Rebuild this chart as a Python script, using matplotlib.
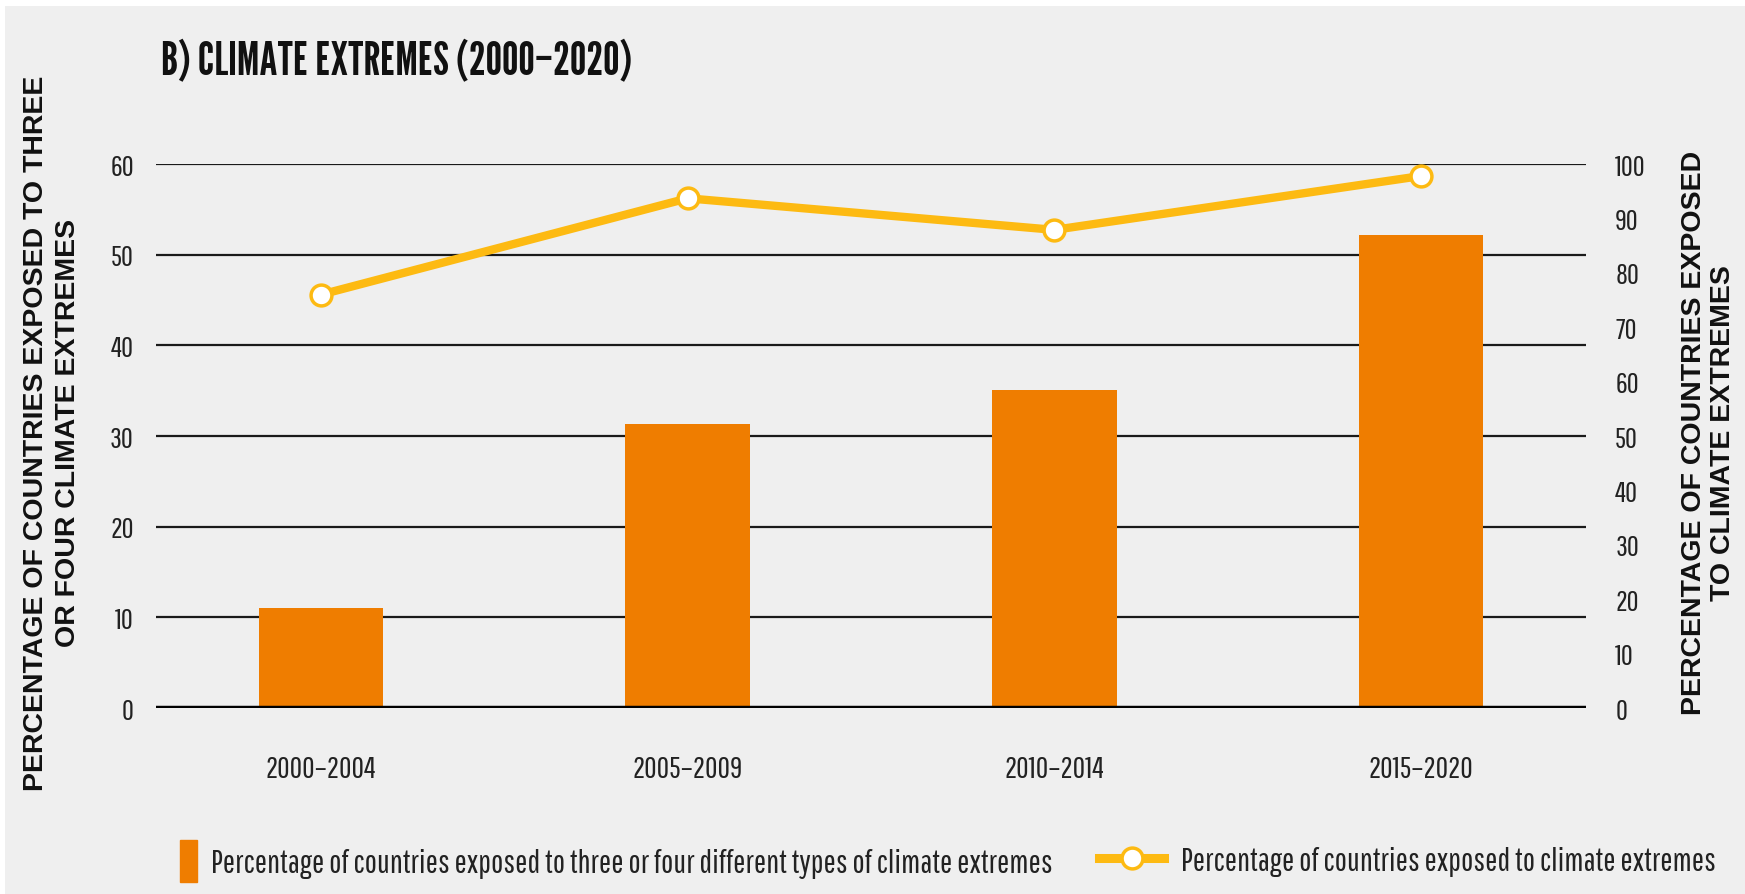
import matplotlib
matplotlib.use("Agg")
import matplotlib.pyplot as plt
from matplotlib.patches import Patch, Rectangle
from matplotlib.lines import Line2D

# data
periods = ["2000\u20132004", "2005\u20132009", "2010\u20132014", "2015\u20132020"]
three_or_four = [11.0, 31.3, 35.1, 52.2]      # left axis, bars
any_extreme = [76.0, 93.7, 87.9, 97.8]        # right axis, line
left_ticks = [0, 10, 20, 30, 40, 50, 60]
right_ticks = [0, 10, 20, 30, 40, 50, 60, 70, 80, 90, 100]

bar_color = "#EF7D00"
line_color = "#FDBA12"
bg = "#EFEFEF"
narrow = ["Pathway Gothic One", "DejaVu Sans"]
title_font = ["League Gothic", "DejaVu Sans"]
label_font = ["Liberation Sans", "Arimo", "DejaVu Sans"]

fig = plt.figure(figsize=(17.45, 8.95), dpi=100, facecolor="white")
fig.patches.append(Rectangle((0.003, 0), 0.997, 0.992, transform=fig.transFigure,
                             facecolor=bg, edgecolor="none", zorder=-10))

ax = fig.add_axes([0.0894, 0.2078, 0.8195, 0.6078])
ax.set_facecolor("none")
x = list(range(len(periods)))

ax.bar(x, three_or_four, width=0.34, color=bar_color, zorder=2)
for t in left_ticks[1:]:
    ax.axhline(t, color="#1a1a1a", lw=1.6, zorder=1)
ax.axhline(0, color="black", lw=3.2, zorder=3)
ax.set_ylim(0, 60)
ax.set_xlim(-0.45, 3.45)
ax.set_yticks(left_ticks)
ax.set_xticks(x)
ax.set_xticklabels(periods, family=narrow, fontsize=22, color="#222222")
for lab in ax.get_yticklabels():
    lab.set_family(narrow)
    lab.set_fontsize(21)
    lab.set_color("#222222")
ax.tick_params(axis="y", length=0, pad=16)
ax.tick_params(axis="x", length=0, pad=33)
for s in ax.spines.values():
    s.set_visible(False)

ax2 = ax.twinx()
ax2.plot(x, any_extreme, color=line_color, lw=6, marker="o", markersize=15,
         markerfacecolor="white", markeredgecolor=line_color, markeredgewidth=2.5,
         zorder=5, clip_on=False)
ax2.set_ylim(0, 100)
ax2.set_yticks(right_ticks)
for lab in ax2.get_yticklabels():
    lab.set_family(narrow)
    lab.set_fontsize(21)
    lab.set_color("#222222")
ax2.tick_params(axis="y", length=0, pad=21)
for s in ax2.spines.values():
    s.set_visible(False)

fig.text(0.092, 0.93, "B) CLIMATE EXTREMES (2000\u20132020)", family=title_font,
         fontsize=33.5, ha="left", va="center", color="#111111")

fig.text(0.030, 0.516, "PERCENTAGE OF COUNTRIES EXPOSED TO THREE\nOR FOUR CLIMATE EXTREMES",
         rotation=90, ha="center", va="center", multialignment="center",
         family=label_font, fontweight="bold", fontsize=20.5, linespacing=1.3,
         color="#111111")
fig.text(0.979, 0.516, "PERCENTAGE OF COUNTRIES EXPOSED\nTO CLIMATE EXTREMES",
         rotation=90, ha="center", va="center", multialignment="center",
         family=label_font, fontweight="bold", fontsize=20.5, linespacing=1.12,
         color="#111111")

leg1 = fig.legend(handles=[Patch(color=bar_color)],
                  labels=["Percentage of countries exposed to three or four different types of climate extremes"],
                  loc="center left", bbox_to_anchor=(0.0865, 0.037), frameon=False,
                  handlelength=0.5, handleheight=1.6, handletextpad=0.45,
                  prop={"family": narrow, "size": 23.5})
leg2 = fig.legend(handles=[Line2D([0], [0], color=line_color, lw=6.5, marker="o", markersize=15,
                                  markerfacecolor="white", markeredgecolor=line_color,
                                  markeredgewidth=2.5)],
                  labels=["Percentage of countries exposed to climate extremes"],
                  loc="center left", bbox_to_anchor=(0.613, 0.037), frameon=False,
                  handlelength=2.0, handletextpad=0.5,
                  prop={"family": narrow, "size": 23.5})
for leg in (leg1, leg2):
    for t in leg.get_texts():
        t.set_color("#222222")

fig.savefig("out.png", dpi=100, facecolor=fig.get_facecolor())
